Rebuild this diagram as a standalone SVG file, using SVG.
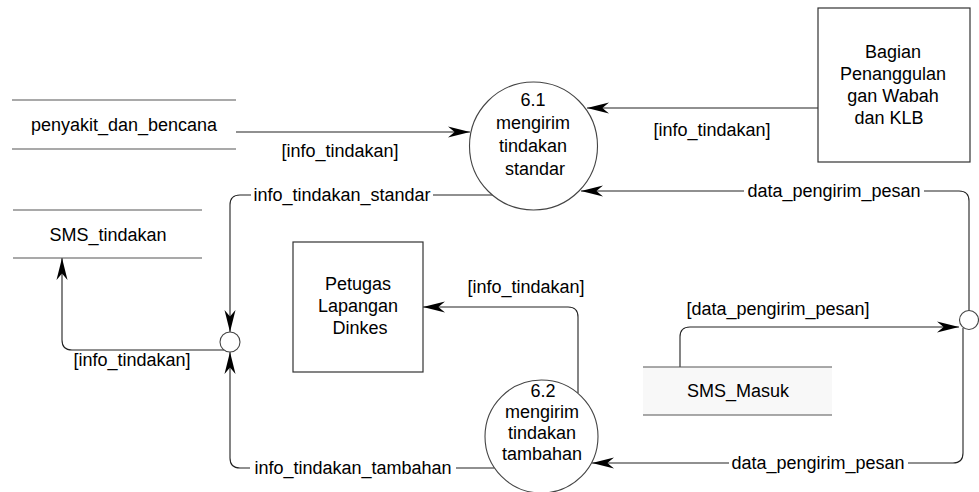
<svg xmlns="http://www.w3.org/2000/svg" width="979" height="492" viewBox="0 0 979 492">
<defs>
<style>
text{font-family:"Liberation Sans",Arial,sans-serif;font-size:18px;fill:#000;text-anchor:middle}
.ln{fill:none;stroke:#222;stroke-width:1.1}
.st{stroke:#555;stroke-width:1.2;fill:none}
.proc{fill:#fff;stroke:#444;stroke-width:1.1}
.ext{fill:#fff;stroke:#333;stroke-width:1.2}
.gap{fill:#fff;stroke:none}
</style>
<marker id="ah" markerUnits="userSpaceOnUse" markerWidth="22" markerHeight="12" viewBox="0 0 20 10" refX="20" refY="5" orient="auto">
<path d="M0,0 L20,5 L0,10 L6,5 z" fill="#000"/>
</marker>
</defs>
<rect width="979" height="492" fill="#fff"/>

<g id="connectors">
<path class="ln" d="M236,132 H470" marker-end="url(#ah)"/>
<path class="ln" d="M818,108 H587" marker-end="url(#ah)"/>
<path class="ln" d="M969,311 V201 Q969,191 959,191 H581" marker-end="url(#ah)"/>
<path class="ln" d="M963,328 V453 Q963,463 953,463 H592" marker-end="url(#ah)"/>
<path class="ln" d="M680,367 V337 Q680,327 690,327 H959" marker-end="url(#ah)"/>
<path class="ln" d="M493,195 H240 Q230,195 230,205 V332" marker-end="url(#ah)"/>
<path class="ln" d="M494,468 H240 Q230,468 230,458 V352" marker-end="url(#ah)"/>
<path class="ln" d="M224,350 H72 Q62,350 62,340 V258" marker-end="url(#ah)"/>
<path class="ln" d="M578,393 V317 Q578,307 568,307 H423" marker-end="url(#ah)"/>
<rect class="gap" x="251" y="186" width="182" height="20"/>
<rect class="gap" x="744" y="182" width="180" height="20"/>
<rect class="gap" x="250" y="458" width="206" height="20"/>
<rect class="gap" x="729" y="454" width="179" height="20"/>
<text x="340" y="157">[info_tindakan]</text>
<text x="712" y="136">[info_tindakan]</text>
<text x="342" y="201">info_tindakan_standar</text>
<text x="834" y="197">data_pengirim_pesan</text>
<text x="526" y="293">[info_tindakan]</text>
<text x="778" y="315">[data_pengirim_pesan]</text>
<text x="132" y="366">[info_tindakan]</text>
<text x="353" y="474">info_tindakan_tambahan</text>
<text x="818" y="469">data_pengirim_pesan</text>
</g>

<g id="store-penyakit">
<line class="st" x1="12" y1="100" x2="236" y2="100"/>
<line class="st" x1="12" y1="149" x2="236" y2="149"/>
<text x="124" y="131">penyakit_dan_bencana</text>
</g>

<g id="store-sms-tindakan">
<line class="st" x1="13" y1="210" x2="202" y2="210"/>
<line class="st" x1="13" y1="258" x2="202" y2="258"/>
<text x="108" y="241">SMS_tindakan</text>
</g>

<g id="store-sms-masuk">
<rect x="643" y="367" width="189" height="48" fill="#f8f8f8"/>
<line class="st" x1="643" y1="367" x2="832" y2="367"/>
<line class="st" x1="643" y1="415" x2="832" y2="415"/>
<text x="738" y="397">SMS_Masuk</text>
</g>

<g id="proc-6-1">
<circle class="proc" cx="533.5" cy="146" r="64"/>
<text x="533" y="106">6.1</text>
<text x="533" y="129">mengirim</text>
<text x="533" y="152">tindakan</text>
<text x="535" y="175">standar</text>
</g>

<g id="proc-6-2">
<circle class="proc" cx="541.5" cy="436.5" r="56.5"/>
<text x="543" y="397">6.2</text>
<text x="542" y="418">mengirim</text>
<text x="542" y="439">tindakan</text>
<text x="542" y="460">tambahan</text>
</g>

<g id="ext-bagian">
<rect class="ext" x="818" y="8" width="152" height="154"/>
<text x="893" y="58">Bagian</text>
<text x="893" y="80">Penanggulan</text>
<text x="893" y="102">gan Wabah</text>
<text x="889" y="124">dan KLB</text>
</g>

<g id="ext-petugas">
<rect class="ext" x="293" y="242" width="130" height="130"/>
<text x="358" y="290">Petugas</text>
<text x="358" y="312">Lapangan</text>
<text x="360" y="334">Dinkes</text>
</g>

<g id="junction-left">
<circle class="proc" cx="230" cy="342" r="10"/>
</g>
<g id="junction-right">
<circle class="proc" cx="969" cy="320" r="9.5"/>
</g>
</svg>
